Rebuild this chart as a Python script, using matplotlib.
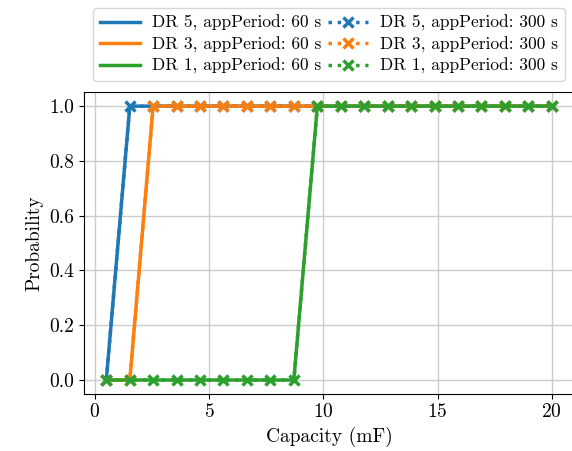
import matplotlib
matplotlib.use("Agg")
import matplotlib.pyplot as plt

plt.rcParams['font.family'] = 'serif'
plt.rcParams['font.serif'] = ['cmr10', 'DejaVu Serif']
plt.rcParams['mathtext.fontset'] = 'cm'
plt.rcParams['axes.formatter.use_mathtext'] = True

capacity = [0.5, 1.53, 2.55, 3.58, 4.61, 5.63, 6.66, 7.68, 8.71, 9.74,
            10.76, 11.79, 12.82, 13.84, 14.87, 15.89, 16.92, 17.95, 18.97, 20.0]

dr5_60 = [0] + [1] * 19
dr3_60 = [0, 0] + [1] * 18
dr1_60 = [0] * 9 + [1] * 11
dr5_300 = [0] + [1] * 19
dr3_300 = [0, 0] + [1] * 18
dr1_300 = [0] * 9 + [1] * 11

labels_60 = ["DR 5, appPeriod: 60 s", "DR 3, appPeriod: 60 s", "DR 1, appPeriod: 60 s"]
labels_300 = ["DR 5, appPeriod: 300 s", "DR 3, appPeriod: 300 s", "DR 1, appPeriod: 300 s"]
colors = ["#1f77b4", "#ff7f0e", "#2ca02c"]

fig = plt.figure(figsize=(5.72, 4.51), dpi=100)
ax = fig.add_axes([0.1469, 0.127, 0.8566, 0.668])

for ys, lab, c in zip([dr5_60, dr3_60, dr1_60], labels_60, colors):
    ax.plot(capacity, ys, color=c, lw=2.5, label=lab)
for ys, lab, c in zip([dr5_300, dr3_300, dr1_300], labels_300, colors):
    ax.plot(capacity, ys, color=c, lw=2.5, ls=':', marker='x', ms=6.5, mew=2.5, label=lab)

ax.set_xticks([0, 5, 10, 15, 20])
ax.set_yticks([0.0, 0.2, 0.4, 0.6, 0.8, 1.0])
ax.set_yticklabels(["0.0", "0.2", "0.4", "0.6", "0.8", "1.0"])
ax.tick_params(labelsize=14)
ax.grid(True, color='#cccccc', lw=1)
ax.set_xlabel("Capacity (mF)", fontsize=14)
ax.set_ylabel("Probability", fontsize=14)

ax.legend(ncol=2, loc='lower center', bbox_to_anchor=(0.5, 1.02), fontsize=12.5,
          handlelength=2.3, columnspacing=0.35, labelspacing=0.3, borderpad=0.4,
          handletextpad=0.7, borderaxespad=0.3)

fig.savefig("out.png", dpi=100)
